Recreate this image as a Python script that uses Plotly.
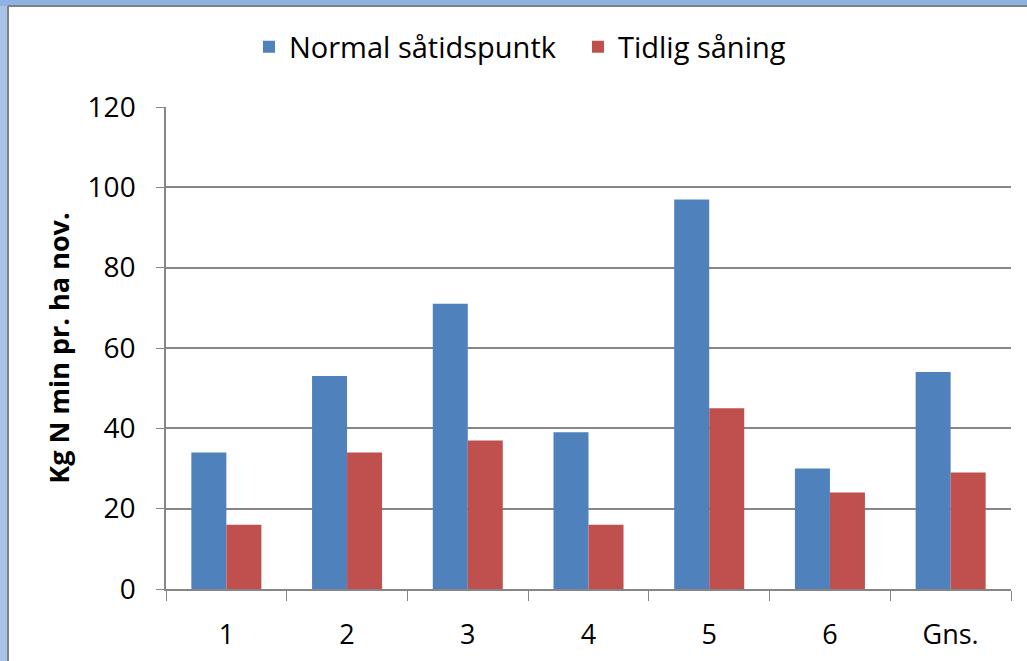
import plotly.graph_objects as go

categories = ["1", "2", "3", "4", "5", "6", "Gns."]
normal = [34, 53, 71, 39, 97, 30, 54]
tidlig = [16, 34, 37, 16, 45, 24, 29]
series_names = ["Normal såtidspuntk", "Tidlig såning"]
y_ticks = [0, 20, 40, 60, 80, 100, 120]

FONT = "Open Sans"
fig = go.Figure()
fig.add_trace(go.Bar(x=categories, y=normal, name=series_names[0],
                     marker=dict(color="#4F81BD", line=dict(width=0))))
fig.add_trace(go.Bar(x=categories, y=tidlig, name=series_names[1],
                     marker=dict(color="#C0504D", line=dict(width=0))))

fig.update_layout(
    width=1027, height=661,
    margin=dict(l=166, r=16, t=107, b=72, autoexpand=False),
    paper_bgcolor="white", plot_bgcolor="white",
    barmode="group", bargap=0.42, bargroupgap=0,
    font=dict(family=FONT, size=28, color="black"),
    legend=dict(orientation="h", x=0.0982, xanchor="left", y=1.1245, yanchor="middle",
                font=dict(family=FONT, size=29), itemwidth=30, traceorder="normal",
                entrywidth=284, entrywidthmode="pixels"),
    xaxis=dict(showline=True, linecolor="#868686", linewidth=1.5,
               ticks="outside", ticklen=10, tickcolor="#868686", tickson="boundaries",
               tickfont=dict(family=FONT, size=27), ticklabelstandoff=21, showgrid=False),
    yaxis=dict(range=[0, 120], tickvals=y_ticks, showline=True, linecolor="#868686",
               linewidth=1.5, ticks="outside", ticklen=8, tickcolor="#868686",
               gridcolor="#868686", gridwidth=1.5, zeroline=False,
               tickfont=dict(family=FONT, size=28), ticklabelstandoff=15,
               title=dict(text="<b>Kg N min pr. ha nov.</b>", font=dict(family=FONT, size=27),
                          standoff=10)),
)

# window frame (blue bands at top and left)
fig.add_shape(type="rect", xref="paper", yref="paper",
              x0=-166/845, x1=-158/845, y0=-72/482, y1=(482+107)/482,
              fillcolor="#A9C2E8", line=dict(width=0), layer="above")
fig.add_shape(type="rect", xref="paper", yref="paper",
              x0=-166/845, x1=(845+16)/845, y0=(482+101)/482, y1=(482+107)/482,
              fillcolor="#8DB3E2", line=dict(width=0), layer="above")
fig.add_shape(type="line", xref="paper", yref="paper",
              x0=-158/845, x1=-158/845, y0=-72/482, y1=(482+101)/482,
              line=dict(color="#808080", width=2), layer="above")
fig.add_shape(type="line", xref="paper", yref="paper",
              x0=-158/845, x1=(845+16)/845, y0=(482+101)/482, y1=(482+101)/482,
              line=dict(color="#808080", width=2), layer="above")

fig.write_html("out.html", config={"displayModeBar": False},
               post_script="document.body.style.margin='0';")
